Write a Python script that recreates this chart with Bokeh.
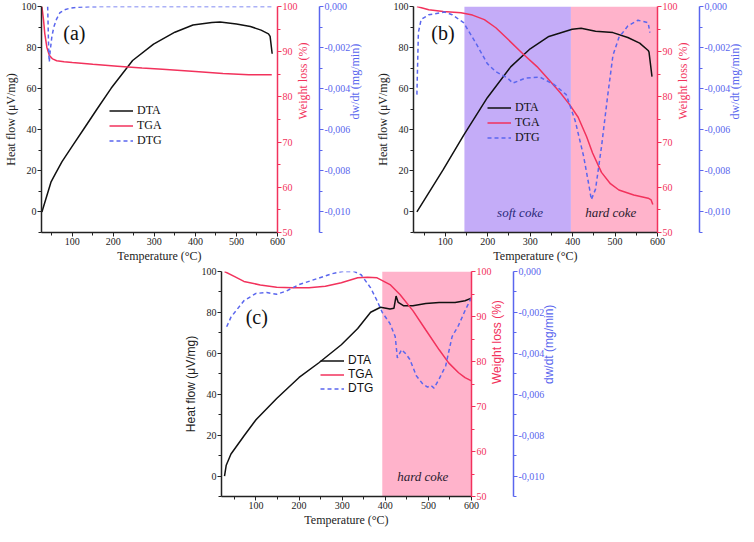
import math
from bokeh.plotting import figure
from bokeh.models import (Range1d, LinearAxis, FixedTicker, CustomJSTickFormatter,
                          BoxAnnotation, Legend, LegendItem, Spacer)
from bokeh.layouts import row, column
from bokeh.core.properties import value
from bokeh.embed import file_html
from bokeh.resources import INLINE

# ---------------- data ----------------
# panel (a)
a_dta_T = [26, 48, 60, 75, 100, 130, 160, 195, 247, 298, 350, 394, 440, 460, 500, 534, 560, 578, 582, 587]
a_dta_V = [0, 14.5, 19, 24.5, 32, 41, 50, 60.3, 73.7, 81.7, 87.5, 91, 92.2, 92.4, 91.5, 90.3, 88.5, 86.7, 85.5, 77]
a_tga_T = [26, 30, 33, 38, 44, 52, 62, 80, 100, 150, 210, 270, 320, 400, 467, 530, 586]
a_tga_V = [100, 97, 94, 91, 89.2, 88.4, 88, 87.8, 87.6, 87.2, 86.8, 86.4, 86.1, 85.6, 85.2, 84.9, 84.9]
a_dtg_T = [40, 41, 42, 43, 44, 46, 50, 55, 62, 70, 81, 95, 113, 140, 200, 300, 400, 500, 590]
a_dtg_V = [0, -0.0008, -0.0017, -0.0024, -0.0027, -0.0022, -0.0015, -0.001, -0.0006, -0.0003,
           -0.00016, -0.00008, -0.00004, -0.00001, 0, 0, 0, 0, 0]

# panel (b)
b_dta_T = [33, 95, 143, 199, 254, 300, 344, 399, 420, 454, 495, 530, 558, 578, 580, 587]
b_dta_V = [0, 20.6, 37.3, 55.6, 70.6, 79.4, 85.4, 88.9, 89.4, 88, 87.3, 84.9, 82.2, 78.6, 77.8, 65.9]
b_tga_T = [33, 61, 95, 137, 164, 192, 219, 247, 282, 316, 344, 371, 392, 413, 433, 447, 468, 489, 509, 544, 578, 585, 589]
b_tga_V = [100, 99.3, 98.9, 98.6, 98.1, 97.1, 95.3, 92.8, 89.6, 86.7, 83.8, 80.9, 78.4, 75.5, 71.2, 67.6,
           63.3, 60.8, 59.4, 58.3, 57.6, 57.2, 56.2]
b_dtg_T = [33, 36.5, 43, 61, 99, 116, 143, 171, 199, 219, 247, 259, 288, 323, 357, 385, 406, 426, 440,
           444, 454, 468, 482, 495, 509, 530, 554, 578, 582]
b_dtg_V = [-0.00429, -0.00127, -0.00063, -0.0004, -0.00027, -0.0004, -0.00079, -0.00175, -0.00278,
           -0.00317, -0.00349, -0.00373, -0.00349, -0.00344, -0.00381, -0.00429, -0.00556, -0.0073,
           -0.00889, -0.0094, -0.00889, -0.00683, -0.00444, -0.00238, -0.00151, -0.00095, -0.00067,
           -0.00079, -0.00127]

# panel (c)
c_dta_T = [27, 31, 42, 72, 100, 148, 200, 246, 298, 336, 366, 389, 411, 420, 425, 430, 442, 464, 494, 525, 562, 585, 600]
c_dta_V = [0, 5.3, 10.8, 19.6, 27.5, 37.9, 48.2, 55.4, 64.2, 72.1, 80.1, 82.5, 81.7, 82, 88, 84.9, 83.3,
           83.3, 84.4, 84.9, 84.9, 85.7, 87]
c_tga_T = [27, 49.5, 72, 110, 148, 185, 223, 261, 298, 336, 359, 381, 411, 434, 464, 494, 525, 547, 570, 585, 600]
c_tga_V = [100, 98.9, 97.8, 97, 96.5, 96.4, 96.4, 96.7, 97.5, 98.6, 98.7, 98.6, 97.1, 94.9, 91.3, 87,
           82.6, 79.7, 77.5, 76.4, 75.7]
c_dtg_T = [32, 42, 72, 100, 125, 148, 170, 200, 246, 276, 300, 328, 344, 366, 381, 393, 411, 423, 428,
           438, 449, 457, 472, 487, 498, 506, 513, 525, 540, 555, 570, 585, 600]
c_dtg_V = [-0.0027, -0.00223, -0.00143, -0.00107, -0.00103, -0.00111, -0.00096, -0.00064, -0.00032,
           -0.00011, 0, 0, -0.00016, -0.0008, -0.00143, -0.002, -0.00255, -0.00318, -0.00422,
           -0.00382, -0.00406, -0.0043, -0.0051, -0.0055, -0.00565, -0.00557, -0.0057, -0.00525,
           -0.00462, -0.00318, -0.00263, -0.00191, -0.00127]

x_ticks = [100, 200, 300, 400, 500, 600]
hf_ticks = [0, 20, 40, 60, 80, 100]
wl_ticks = [50, 60, 70, 80, 90, 100]
dtg_ticks = [0, -0.002, -0.004, -0.006, -0.008, -0.010]

RED = "#f2325c"
BLUE = "#5a66ee"
SERIF = "Liberation Serif"
SANS = "Liberation Sans"


def make_panel(tag, x_start, frame_w, frame_h, dta, tga, dtg, regions, texts,
               legend_loc, tag_pos, sans_titles=False, legend_font=SERIF):
    p = figure(frame_width=frame_w, frame_height=frame_h, output_backend="svg",
               toolbar_location=None, x_range=Range1d(x_start, 600), y_range=Range1d(-10, 100),
               min_border_left=0, min_border_right=0, min_border_top=6, min_border_bottom=0)
    p.outline_line_color = None
    p.xgrid.visible = False
    p.ygrid.visible = False
    p.extra_y_ranges = {"wl": Range1d(50, 100), "dtg": Range1d(-0.011, 0)}

    title_font = SANS if sans_titles else SERIF

    def style(ax, color, font_title, right=False):
        ax.axis_line_color = color
        ax.axis_line_width = 1.5
        ax.major_tick_line_color = color
        ax.minor_tick_line_color = color
        ax.major_tick_out = 4
        ax.major_tick_in = 0
        ax.minor_tick_out = 3
        ax.minor_tick_in = 0
        ax.major_label_text_color = color
        ax.major_label_text_font = SERIF
        ax.major_label_text_font_size = "10px"
        ax.major_label_standoff = 1
        ax.axis_label_text_color = color
        ax.axis_label_text_font = font_title
        ax.axis_label_text_font_size = "12px"
        ax.axis_label_text_font_style = "normal"
        ax.axis_label_standoff = 2 if right else 1
        if right and hasattr(ax, "axis_label_orientation"):
            ax.axis_label_orientation = math.pi / 2

    xa = p.xaxis[0]
    xa.ticker = FixedTicker(ticks=x_ticks, minor_ticks=[50, 150, 250, 350, 450, 550])
    xa.axis_label = "Temperature (°C)"
    style(xa, "#222222", SERIF)

    ya = p.yaxis[0]
    ya.ticker = FixedTicker(ticks=hf_ticks, minor_ticks=[-10, 10, 30, 50, 70, 90])
    ya.axis_label = "Heat flow (μV/mg)"
    style(ya, "#222222", title_font)

    ra = LinearAxis(y_range_name="wl", axis_label="Weight loss (%)",
                    ticker=FixedTicker(ticks=wl_ticks, minor_ticks=[55, 65, 75, 85, 95]))
    style(ra, RED, title_font, right=True)
    p.add_layout(ra, "right")

    ba = LinearAxis(y_range_name="dtg", axis_label="dw/dt (mg/min)",
                    ticker=FixedTicker(ticks=dtg_ticks,
                                       minor_ticks=[-0.001, -0.003, -0.005, -0.007, -0.009, -0.011]),
                    formatter=CustomJSTickFormatter(code="return tick.toFixed(3).replace('.', ',');"))
    style(ba, BLUE, title_font, right=True)
    p.add_layout(ba, "right")

    for (l, r, c) in regions:
        p.add_layout(BoxAnnotation(left=l, right=r, fill_color=c, fill_alpha=1.0,
                                   line_color=None, level="underlay"))

    for (tx, ty, s, col) in texts:
        p.text(x=[tx], y=[ty], text=[s], text_font=value(SERIF), text_font_style="italic",
               text_font_size="13px", text_color=col, text_align="center", text_baseline="middle")

    p.text(x=[tag_pos[0]], y=[tag_pos[1]], text=[tag], text_font=value(SERIF),
           text_font_size="20px", text_color="#111111", text_align="left", text_baseline="middle")

    r1 = p.line(dta[0], dta[1], line_color="#111111", line_width=1.5)
    r2 = p.line(tga[0], tga[1], line_color=RED, line_width=1.5, y_range_name="wl")
    r3 = p.line(dtg[0], dtg[1], line_color=BLUE, line_width=1.5, line_dash="4 3", y_range_name="dtg")

    leg = Legend(items=[LegendItem(label="DTA", renderers=[r1]),
                        LegendItem(label="TGA", renderers=[r2]),
                        LegendItem(label="DTG", renderers=[r3])],
                 location=legend_loc)
    leg.background_fill_alpha = 0
    leg.border_line_color = None
    leg.padding = 0
    leg.margin = 0
    leg.spacing = 0
    leg.label_height = 13
    leg.glyph_height = 13
    leg.glyph_width = 24
    leg.label_standoff = 4
    leg.label_text_font = legend_font
    leg.label_text_font_size = "12px"
    leg.label_text_color = "#111111"
    p.add_layout(leg, "center")
    return p


pa = make_panel("(a)", 25, 236, 226,
                (a_dta_T, a_dta_V), (a_tga_T, a_tga_V), (a_dtg_T, a_dtg_V),
                [], [], (68, 84), (78, 87))
pb = make_panel("(b)", 25, 244, 226,
                (b_dta_T, b_dta_V), (b_tga_T, b_tga_V), (b_dtg_T, b_dtg_V),
                [(145, 396, "#c4acf8"), (396, 600, "#ffb3cb")],
                [(276, -0.5, "soft coke", "#2a2a7a"), (490, -0.5, "hard coke", "#2a2030")],
                (74, 87), (67, 87))
pc = make_panel("(c)", 20, 250, 225,
                (c_dta_T, c_dta_V), (c_tga_T, c_tga_V), (c_dtg_T, c_dtg_V),
                [(393, 600, "#ffb3cb")],
                [(487, 0, "hard coke", "#2a2030")],
                (99, 101), (76, 77.7), sans_titles=True, legend_font=SANS)

layout = column(row(pa, pb), row(Spacer(width=180, height=10), pc))
open("out.html", "w").write(file_html(layout, INLINE))
